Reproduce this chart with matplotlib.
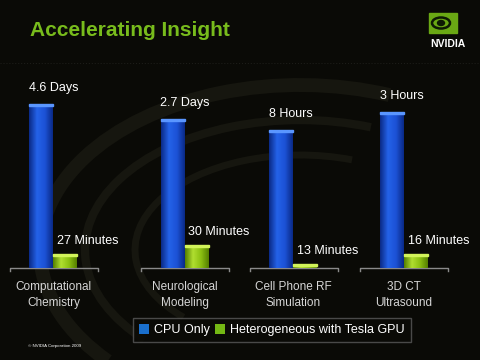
import numpy as np
import matplotlib
matplotlib.use("Agg")
import matplotlib.pyplot as plt
from matplotlib.colors import LinearSegmentedColormap
from matplotlib.patches import Patch, Rectangle, Arc, Ellipse

# data (bar heights are the drawn heights, each group on its own scale)
categories = ["Computational\nChemistry", "Neurological\nModeling",
              "Cell Phone RF\nSimulation", "3D CT\nUltrasound"]
cpu_height = [164, 149, 138, 156]
gpu_height = [14, 23, 4, 14]
cpu_labels = ["4.6 Days", "2.7 Days", "8 Hours", "3 Hours"]
gpu_labels = ["27 Minutes", "30 Minutes", "13 Minutes", "16 Minutes"]
series = ["CPU Only", "Heterogeneous with Tesla GPU"]

group_x = [53.5, 185, 293.5, 404]
bar_w = 24
bg = "#0a0a06"

fig = plt.figure(figsize=(4.8, 3.6), dpi=100, facecolor=bg)

# faint background swirl
bgax = fig.add_axes([0, 0, 1, 1])
bgax.set_xlim(0, 480)
bgax.set_ylim(360, 0)
bgax.axis("off")
bgax.set_facecolor(bg)
for w, h, lw in [(520, 330, 10), (430, 260, 6), (330, 190, 5)]:
    bgax.add_patch(Arc((300, 250), w, h, theta1=150, theta2=300,
                       color="#16160f", lw=lw))
bgax.plot([0, 480], [63, 63], color="#1c1c18", lw=0.8, ls=":")

# title and logo
fig.text(30 / 480, 1 - 31 / 360, "Accelerating Insight", color="#78bc1c",
         fontsize=15, fontweight="bold", family="Liberation Sans",
         va="center", ha="left")
bgax.add_patch(Rectangle((429, 13), 28, 20, color="#6aa814"))
bgax.add_patch(Ellipse((441, 23), 18, 11, fill=False, color="#0e1a04", lw=1.8))
bgax.add_patch(Ellipse((441, 23), 7, 5, color="#0e1a04"))
fig.text(448 / 480, 1 - 44 / 360, "NVIDIA", color="white", fontsize=7.5,
         fontweight="bold", family="Liberation Sans", ha="center", va="center")
fig.text(28 / 480, 1 - 346 / 360, "\u00a9 NVIDIA Corporation 2009", color="white",
         fontsize=3.2, family="Liberation Sans", ha="left", va="center")

# chart
ax = fig.add_axes([0, (360 - 268) / 360, 1, 200 / 360])
ax.set_xlim(0, 480)
ax.set_ylim(0, 200)
ax.axis("off")
ax.patch.set_alpha(0)

blue_map = LinearSegmentedColormap.from_list("b", ["#0a2a86", "#2462e8", "#1c52d6", "#0a2a86"])
green_map = LinearSegmentedColormap.from_list("g", ["#557f00", "#b0de30", "#8cc012", "#557f00"])
grad = np.linspace(0, 1, 64).reshape(1, -1)

cpu_x = [g - 12.5 for g in group_x]
gpu_x = [g + 11.5 for g in group_x]
cpu_bars = ax.bar(cpu_x, cpu_height, width=bar_w, color="#1c52d6", zorder=2)
gpu_bars = ax.bar(gpu_x, gpu_height, width=bar_w, color="#8cc012", zorder=2)

for bars, cmap, cap in [(cpu_bars, blue_map, "#5a96ff"), (gpu_bars, green_map, "#d2f45a")]:
    for p in bars:
        x0, h = p.get_x(), p.get_height()
        ax.imshow(grad, extent=(x0, x0 + bar_w, 0, h), cmap=cmap, aspect="auto",
                  zorder=3, clip_path=p)
        ax.add_patch(Rectangle((x0, h - 1.5), bar_w, 1.5, color=cap, zorder=4))
ax.set_xlim(0, 480)
ax.set_ylim(0, 200)

label_font = dict(color="white", fontsize=9, family="Liberation Sans", va="center")
for p, txt in zip(cpu_bars, cpu_labels):
    ax.annotate(txt, (p.get_x(), p.get_height()), xytext=(0, 16),
                textcoords="offset pixels", ha="left", **label_font)
for p, txt in zip(gpu_bars, gpu_labels):
    ax.annotate(txt, (p.get_x(), p.get_height()), xytext=(4, 13),
                textcoords="offset pixels", ha="left", **label_font)

# platforms and category names
for g, cat in zip(group_x, categories):
    ax.plot([g - 44, g - 44, g + 44, g + 44], [-3, 0, 0, -3], color="#8a8a8a",
            lw=1, zorder=1, clip_on=False)
    ax.annotate(cat, (g, 0), xytext=(0, -27), textcoords="offset pixels",
                ha="center", va="center", color="#d6d6d6", fontsize=8.5,
                family="Liberation Sans", linespacing=1.45,
                annotation_clip=False)

handles = [Patch(facecolor="#1a6fcc"), Patch(facecolor="#74b814")]
leg = fig.legend(handles, series, loc="center", bbox_to_anchor=(272 / 480, 1 - 330 / 360),
                 ncol=2, frameon=True, fancybox=False, facecolor=bg, edgecolor="#5a5a5a",
                 handlelength=0.8, handleheight=0.8, handletextpad=0.4, columnspacing=0.4,
                 borderpad=0.5, borderaxespad=0,
                 prop={"family": "Liberation Sans", "size": 9})
for t in leg.get_texts():
    t.set_color("white")

fig.savefig("out.png", dpi=100, facecolor=bg)
